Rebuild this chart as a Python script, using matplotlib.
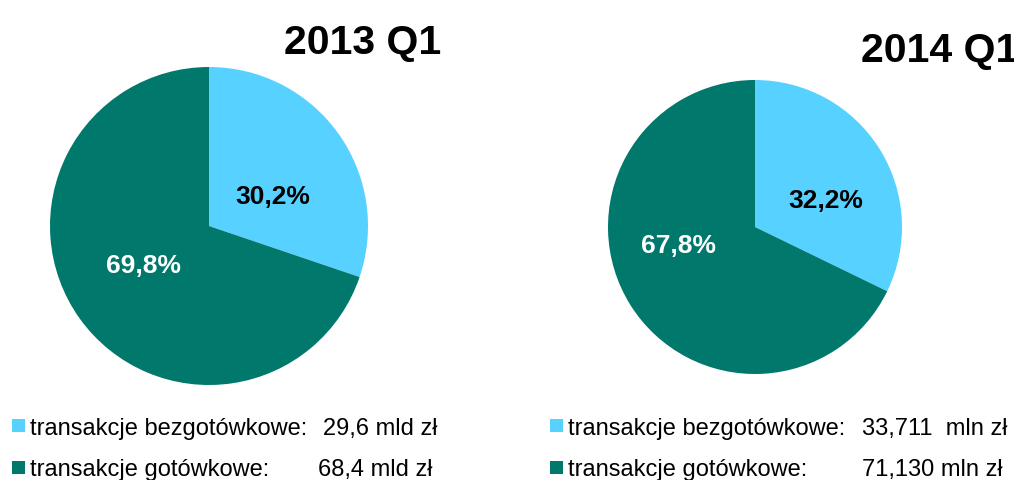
import matplotlib
matplotlib.use("Agg")
import matplotlib.pyplot as plt
from matplotlib.patches import Rectangle

plt.rcParams['font.family'] = ['Liberation Sans', 'DejaVu Sans']

categories = ["transakcje bezgotówkowe:", "transakcje gotówkowe:"]
titles = ["2013 Q1", "2014 Q1"]
shares_2013 = [30.2, 69.8]
shares_2014 = [32.2, 67.8]
values_2013 = ["29,6 mld zł", "68,4 mld zł"]
values_2014 = ["33,711  mln zł", "71,130 mln zł"]

colors = ["#57D1FF", "#00786C"]
label_colors = ["black", "white"]

W, H = 1014, 480
fig = plt.figure(figsize=(W / 100, H / 100), dpi=100)


def px_axes(cx, cy, r):
    return fig.add_axes([(cx - r) / W, (H - cy - r) / H, 2 * r / W, 2 * r / H])


def fmt(v):
    return f"{v:.1f}".replace(".", ",") + "%"


def draw_pie(ax, shares, label_pos):
    ax.pie(shares, colors=colors, startangle=90, counterclock=False,
           radius=1.0, wedgeprops=dict(linewidth=0))
    for v, pos, c in zip(shares, label_pos, label_colors):
        ax.text(pos[0], pos[1], fmt(v), ha="center", va="center",
                fontsize=19, fontweight="bold", color=c)
    ax.set_xlim(-1, 1)
    ax.set_ylim(-1, 1)
    ax.set_aspect("auto")
    ax.axis("off")


ax1 = px_axes(209, 226, 159)
draw_pie(ax1, shares_2013, [(0.40, 0.18), (-0.41, -0.25)])
ax2 = px_axes(755, 227, 147)
draw_pie(ax2, shares_2014, [(0.48, 0.18), (-0.52, -0.13)])

fig.text(363 / W, 1 - 54 / H, titles[0], ha="center", va="baseline",
         fontsize=29.5, fontweight="bold")
fig.text(861 / W, 1 - 62 / H, titles[1], ha="left", va="baseline",
         fontsize=29.5, fontweight="bold")

rows_y = [(419, 435), (461, 476)]
for sq_x, txt_x, val_x, vals in [(12, 30, (323, 318), values_2013),
                                  (550, 568, (862, 862), values_2014)]:
    for i, (cat, val) in enumerate(zip(categories, vals)):
        top, base = rows_y[i]
        fig.patches.append(Rectangle((sq_x / W, 1 - (top + 13) / H), 13 / W, 13 / H,
                                     transform=fig.transFigure, facecolor=colors[i],
                                     edgecolor="none"))
        fig.text(txt_x / W, 1 - base / H, cat, ha="left", va="baseline", fontsize=17)
        fig.text(val_x[i] / W, 1 - base / H, val, ha="left", va="baseline", fontsize=17)

fig.savefig("out.png", dpi=100, facecolor="white")
